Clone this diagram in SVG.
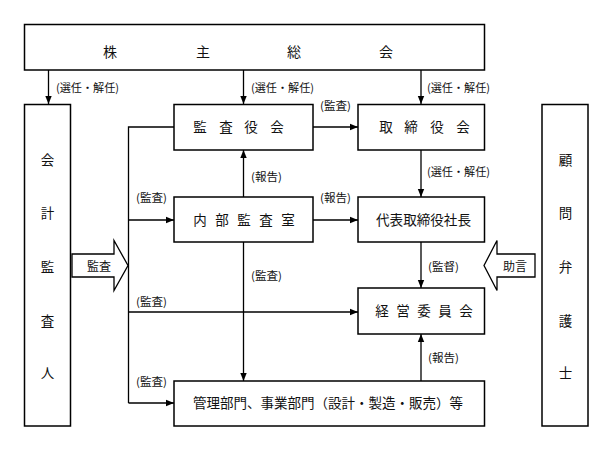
<svg xmlns="http://www.w3.org/2000/svg" width="615" height="452" viewBox="0 0 615 452">
<defs>
<marker id="ah" markerUnits="userSpaceOnUse" markerWidth="8" markerHeight="8" viewBox="0 0 8 8" refX="8" refY="4" orient="auto">
<path d="M0,0.8 L8,4 L0,7.2 Z" fill="#000"/>
</marker>
<style>
.box{fill:#fff;stroke:#000;stroke-width:1.5}
.ln{fill:none;stroke:#000;stroke-width:1.3}
.ar{fill:none;stroke:#000;stroke-width:1.3;marker-end:url(#ah)}
.blk{fill:#fff;stroke:#000;stroke-width:1.3}
text{font-family:"Noto Sans CJK JP","Noto Sans CJK SC",sans-serif;fill:#111}
.t{font-size:13.5px;text-anchor:middle}
.big{font-size:14px;text-anchor:middle}
.lb{font-size:11px}
</style>
</defs>
<rect width="615" height="452" fill="#fff"/>
<g id="connectors">
<line class="ar" x1="48.5" y1="70" x2="48.5" y2="104"/>
<line class="ar" x1="243.5" y1="70" x2="243.5" y2="104"/>
<line class="ar" x1="421" y1="70" x2="421" y2="104"/>
<line class="ar" x1="313" y1="127" x2="358" y2="127"/>
<polyline class="ln" points="174,127 128.5,127 128.5,403"/>
<line class="ar" x1="128.5" y1="220" x2="174" y2="220"/>
<line class="ar" x1="128.5" y1="312" x2="358" y2="312"/>
<line class="ar" x1="128.5" y1="403" x2="174" y2="403"/>
<line class="ar" x1="243.5" y1="197" x2="243.5" y2="150"/>
<line class="ar" x1="243.5" y1="242" x2="243.5" y2="381"/>
<line class="ar" x1="313" y1="220" x2="358" y2="220"/>
<line class="ar" x1="421" y1="150" x2="421" y2="197"/>
<line class="ar" x1="421" y1="242" x2="421" y2="288"/>
<line class="ar" x1="421" y1="381" x2="421" y2="334"/>
<g class="lb">
<text x="56" y="92" textLength="63" lengthAdjust="spacingAndGlyphs">(選任・解任)</text>
<text x="251" y="92" textLength="63" lengthAdjust="spacingAndGlyphs">(選任・解任)</text>
<text x="427" y="92" textLength="63" lengthAdjust="spacingAndGlyphs">(選任・解任)</text>
<text x="320" y="110" textLength="31" lengthAdjust="spacingAndGlyphs">(監査)</text>
<text x="251" y="181" textLength="31" lengthAdjust="spacingAndGlyphs">(報告)</text>
<text x="427" y="176" textLength="63" lengthAdjust="spacingAndGlyphs">(選任・解任)</text>
<text x="136" y="202" textLength="31" lengthAdjust="spacingAndGlyphs">(監査)</text>
<text x="320" y="202" textLength="31" lengthAdjust="spacingAndGlyphs">(報告)</text>
<text x="428" y="271" textLength="31" lengthAdjust="spacingAndGlyphs">(監督)</text>
<text x="251" y="280" textLength="31" lengthAdjust="spacingAndGlyphs">(監査)</text>
<text x="136" y="306" textLength="31" lengthAdjust="spacingAndGlyphs">(監査)</text>
<text x="428" y="362" textLength="31" lengthAdjust="spacingAndGlyphs">(報告)</text>
<text x="136" y="386" textLength="31" lengthAdjust="spacingAndGlyphs">(監査)</text>
</g>
</g>
<g id="kabunushi">
<rect class="box" x="24.5" y="24.5" width="460" height="45.5"/>
<text class="big" x="110 203 294 386" y="57">株主総会</text>
</g>
<g id="kaikei">
<rect class="box" x="24.5" y="104.5" width="46" height="321.5"/>
<text class="t" x="47.5" y="165">会</text>
<text class="t" x="47.5" y="218">計</text>
<text class="t" x="47.5" y="272">監</text>
<text class="t" x="47.5" y="326">査</text>
<text class="t" x="47.5" y="378">人</text>
</g>
<g id="komon">
<rect class="box" x="542" y="104.5" width="46" height="321.5"/>
<text class="t" x="565.5" y="165">顧</text>
<text class="t" x="565.5" y="218">問</text>
<text class="t" x="565.5" y="272">弁</text>
<text class="t" x="565.5" y="326">護</text>
<text class="t" x="565.5" y="378">士</text>
</g>
<g id="kansayakukai">
<rect class="box" x="174" y="104.5" width="139" height="45.5"/>
<text class="t" x="200 226 251 277" y="132">監査役会</text>
</g>
<g id="torishimariyakukai">
<rect class="box" x="358" y="104.5" width="126.5" height="45.5"/>
<text class="t" x="386 411 437 463" y="132">取締役会</text>
</g>
<g id="naibukansa">
<rect class="box" x="174" y="197" width="139" height="45"/>
<text class="t" x="200 222 244 266 288" y="224.5">内部監査室</text>
</g>
<g id="shacho">
<rect class="box" x="358" y="197" width="126.5" height="45"/>
<text class="t" x="423.5" y="224.5" textLength="95" lengthAdjust="spacingAndGlyphs">代表取締役社長</text>
</g>
<g id="keiei">
<rect class="box" x="358" y="288" width="126.5" height="46"/>
<text class="t" x="382 403 424 445 466" y="316">経営委員会</text>
</g>
<g id="kanri">
<rect class="box" x="174" y="381" width="310.5" height="45"/>
<text class="t" x="328" y="408" textLength="270" lengthAdjust="spacingAndGlyphs">管理部門、事業部門（設計・製造・販売）等</text>
</g>
<g id="kansa-arrow">
<polygon class="blk" points="72,254 114,254 114,240.5 128,265.5 114,290.5 114,277 72,277"/>
<text class="t" x="99" y="270.5" style="font-size:12px">監査</text>
</g>
<g id="jogen-arrow">
<polygon class="blk" points="535,254 497,254 497,240.5 484,265.5 497,290.5 497,277 535,277"/>
<text class="t" x="515" y="270.5" style="font-size:12px">助言</text>
</g>
</svg>
